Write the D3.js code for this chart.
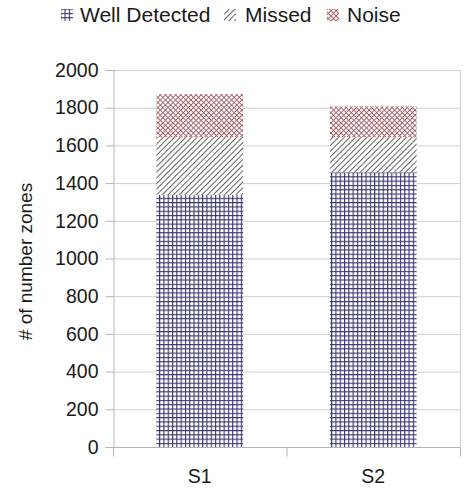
<!DOCTYPE html>
<html>
<head>
<meta charset="utf-8">
<script src="https://cdn.jsdelivr.net/npm/d3@7"></script>
<style>
  body { margin: 0; background: #fff; }
  text { font-family: "Liberation Sans", Arial, sans-serif; fill: #1a1a1a; }
</style>
</head>
<body>
<div id="chart"></div>
<script>
const categories = ["S1", "S2"];
const seriesNames = ["Well Detected", "Missed", "Noise"];
const wellDetected = [1338, 1457];
const missed = [306, 187];
const noise = [228, 163];
const yTicks = [0, 200, 400, 600, 800, 1000, 1200, 1400, 1600, 1800, 2000];

const width = 471, height = 488;
const margin = ({ top: 70, right: 11, bottom: 41, left: 113 });

const svg = d3.select("#chart").append("svg")
    .attr("width", width)
    .attr("height", height);

const defs = svg.append("defs");

// grid pattern for well detected
const pGrid = defs.append("pattern")
    .attr("id", "p-well")
    .attr("patternUnits", "userSpaceOnUse")
    .attr("width", 4.3).attr("height", 4.3);
pGrid.append("rect").attr("width", 4.3).attr("height", 4.3).attr("fill", "#fff");
pGrid.append("line").attr("x1", 0.5).attr("x2", 0.5).attr("y1", 0).attr("y2", 4.3)
    .attr("stroke", "#35356a").attr("stroke-width", 1.2);
pGrid.append("line").attr("y1", 0.5).attr("y2", 0.5).attr("x1", 0).attr("x2", 4.3)
    .attr("stroke", "#35356a").attr("stroke-width", 1.2);

// diagonal lines for missed
const pMiss = defs.append("pattern")
    .attr("id", "p-missed")
    .attr("patternUnits", "userSpaceOnUse")
    .attr("width", 4).attr("height", 4)
    .attr("patternTransform", "rotate(45)");
pMiss.append("rect").attr("width", 4).attr("height", 4).attr("fill", "#fff");
pMiss.append("line").attr("x1", 0.5).attr("x2", 0.5).attr("y1", 0).attr("y2", 4)
    .attr("stroke", "#555").attr("stroke-width", 0.9);

// crosshatch for noise
const pNoise = defs.append("pattern")
    .attr("id", "p-noise")
    .attr("patternUnits", "userSpaceOnUse")
    .attr("width", 3.6).attr("height", 3.6)
    .attr("patternTransform", "rotate(45)");
pNoise.append("rect").attr("width", 3.6).attr("height", 3.6).attr("fill", "#fff");
pNoise.append("line").attr("x1", 0.5).attr("x2", 0.5).attr("y1", 0).attr("y2", 3.6)
    .attr("stroke", "#a05a5e").attr("stroke-width", 0.9);
pNoise.append("line").attr("y1", 0.5).attr("y2", 0.5).attr("x1", 0).attr("x2", 3.6)
    .attr("stroke", "#a05a5e").attr("stroke-width", 0.9);

const fills = ["url(#p-well)", "url(#p-missed)", "url(#p-noise)"];

const x = d3.scaleBand()
    .domain(categories)
    .range([margin.left, width - margin.right])
    .paddingInner(0.5)
    .paddingOuter(0.25);

const y = d3.scaleLinear()
    .domain([0, 2000])
    .range([height - margin.bottom, margin.top]);

// gridlines
svg.append("g")
    .selectAll("line")
    .data(yTicks.slice(1))
    .join("line")
    .attr("x1", margin.left).attr("x2", width - margin.right)
    .attr("y1", d => y(d) + 0.5).attr("y2", d => y(d) + 0.5)
    .attr("stroke", "#cfcfcf");

// right border
svg.append("line")
    .attr("x1", width - margin.right + 0.5).attr("x2", width - margin.right + 0.5)
    .attr("y1", margin.top).attr("y2", y(0))
    .attr("stroke", "#cfcfcf");

// stacked bars
const table = categories.map((c, i) => ({
    cat: c, "Well Detected": wellDetected[i], "Missed": missed[i], "Noise": noise[i]
}));
const stacked = d3.stack().keys(seriesNames)(table);

svg.append("g")
    .selectAll("g")
    .data(stacked)
    .join("g")
    .attr("fill", (d, i) => fills[i])
    .selectAll("rect")
    .data(d => d)
    .join("rect")
    .attr("x", d => x(d.data.cat))
    .attr("y", d => y(d[1]))
    .attr("width", x.bandwidth())
    .attr("height", d => y(d[0]) - y(d[1]));

// y axis
const yAxis = svg.append("g")
    .attr("transform", `translate(${margin.left + 0.5},0)`)
    .call(d3.axisLeft(y).tickValues(yTicks).tickSize(8).tickPadding(7).tickFormat(d3.format("d")));
yAxis.select(".domain").attr("stroke", "#b4b4b4");
yAxis.selectAll(".tick line").attr("stroke", "#b4b4b4");
yAxis.selectAll(".tick text").attr("font-size", 19.5).attr("fill", "#1a1a1a")
    .attr("font-family", "Liberation Sans, Arial, sans-serif");

// x axis with separator ticks
const xAxisG = svg.append("g")
    .attr("transform", `translate(0,${y(0) + 0.5})`);
xAxisG.append("line")
    .attr("x1", margin.left).attr("x2", width - margin.right)
    .attr("stroke", "#b4b4b4");
const seps = [margin.left, (margin.left + width - margin.right) / 2, width - margin.right];
xAxisG.selectAll(".sep")
    .data(seps)
    .join("line")
    .attr("class", "sep")
    .attr("x1", d => d + 0.5).attr("x2", d => d + 0.5)
    .attr("y1", 0).attr("y2", 9)
    .attr("stroke", "#b4b4b4");
xAxisG.selectAll(".cat")
    .data(categories)
    .join("text")
    .attr("class", "cat")
    .attr("x", d => x(d) + x.bandwidth() / 2)
    .attr("y", 35)
    .attr("text-anchor", "middle")
    .attr("font-size", 19.5)
    .text(d => d);

// y label
svg.append("text")
    .attr("transform", `translate(32,${(margin.top + y(0)) / 2 + 3}) rotate(-90)`)
    .attr("text-anchor", "middle")
    .attr("font-size", 19)
    .text("# of number zones");

// legend
const legendX = [61, 224, 327];
const legendTextX = [80, 245, 347];
const legend = svg.append("g");
seriesNames.forEach((name, i) => {
    legend.append("rect")
        .attr("x", legendX[i]).attr("y", 9)
        .attr("width", 12).attr("height", 12)
        .attr("fill", fills[i]);
    legend.append("text")
        .attr("x", legendTextX[i])
        .attr("y", 22)
        .attr("font-size", 21)
        .text(name);
});
</script>
</body>
</html>
